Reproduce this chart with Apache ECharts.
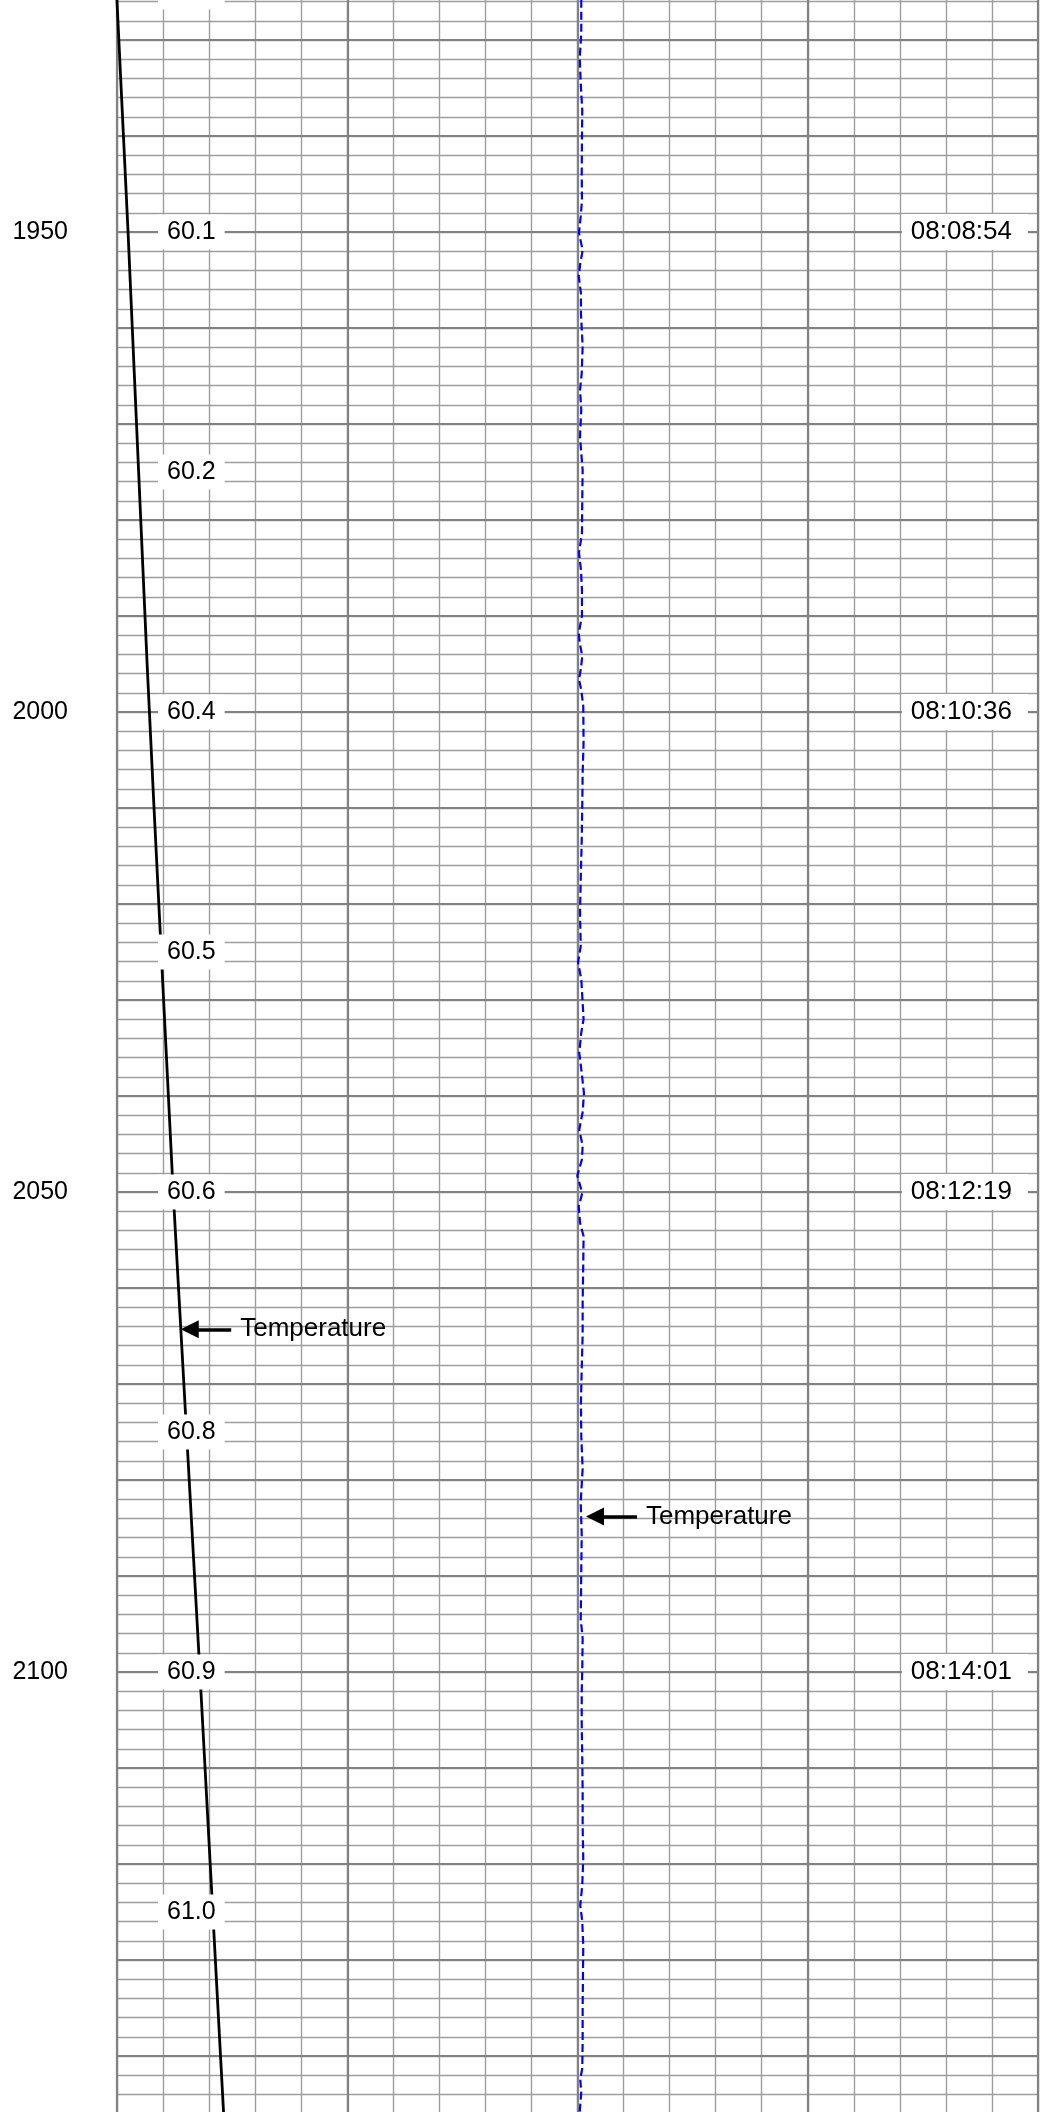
<!DOCTYPE html>
<html>
<head>
<meta charset="utf-8">
<script src="https://cdn.jsdelivr.net/npm/echarts@6/dist/echarts.min.js"></script>
<style>
html, body { margin: 0; padding: 0; background: #ffffff; }
#chart { width: 1045px; height: 2112px; }
</style>
</head>
<body>
<div id="chart"></div>
<script>
// ---------------- data ----------------
// Black curve: temperature (track scale 60 - 70)
const tempDepths = [1920, 1925, 1930, 1935, 1940, 1945, 1950, 1955, 1960, 1965, 1970, 1975, 1980, 1985, 1990, 1995,
  2000, 2005, 2010, 2015, 2020, 2025, 2030, 2035, 2040, 2045, 2050, 2055, 2060, 2065, 2070, 2075, 2080, 2085, 2090,
  2095, 2100, 2105, 2110, 2115, 2120, 2125, 2130, 2135, 2140, 2145, 2150];
const tempValues = [59.970, 59.995, 60.020, 60.045, 60.070, 60.095, 60.120, 60.143, 60.166, 60.189, 60.212, 60.235,
  60.258, 60.281, 60.304, 60.327, 60.352, 60.377, 60.402, 60.428, 60.454, 60.480, 60.506, 60.532, 60.558, 60.584,
  60.610, 60.639, 60.668, 60.697, 60.726, 60.755, 60.784, 60.813, 60.842, 60.871, 60.900, 60.928, 60.956, 60.984,
  61.012, 61.040, 61.068, 61.096, 61.124, 61.152, 61.180];

// Blue dashed curve: temperature (track scale 0 - 120)
const blueDepths = [1925.8, 1929.3, 1931.9, 1934.5, 1937.3, 1940.4, 1943.9, 1946.7, 1948.4, 1950.1, 1951.9, 1953.3,
  1954.6, 1956.4, 1958.5, 1961.9, 1964.7, 1966.5, 1968.5, 1971.3, 1972.3, 1974.8, 1977.9, 1981.4, 1983.4, 1985.2,
  1987.3, 1990.0, 1991.8, 1992.8, 1994.2, 1995.6, 1996.6, 1997.7, 1999.4, 2003.2, 2006.4, 2009.8, 2013.3, 2017.4,
  2020.9, 2024.4, 2026.1, 2027.8, 2029.6, 2032.0, 2033.4, 2035.5, 2037.6, 2039.7, 2041.7, 2043.5, 2045.2, 2046.6,
  2048.3, 2050.1, 2051.5, 2053.2, 2054.6, 2057.4, 2061.5, 2064.9, 2068.4, 2071.9, 2075.4, 2078.8, 2082.3, 2085.8,
  2089.3, 2092.7, 2094.5, 2096.5, 2099.7, 2102.1, 2105.5, 2109.0, 2112.5, 2116.0, 2119.4, 2122.2, 2124.3, 2126.0,
  2128.5, 2131.6, 2135.1, 2138.5, 2141.3, 2142.4, 2143.8, 2145.8];
const blueValues = [60.49, 60.49, 60.29, 60.42, 60.62, 60.58, 60.55, 60.58, 60.42, 60.19, 60.67, 60.36,
  60.16, 60.45, 60.45, 60.67, 60.55, 60.33, 60.49, 60.33, 60.42, 60.67, 60.62, 60.58, 60.19, 60.45,
  60.58, 60.58, 60.16, 60.29, 60.62, 60.42, 60.19, 60.49, 60.75, 60.79, 60.67, 60.62, 60.55, 60.42,
  60.33, 60.42, 60.07, 60.49, 60.62, 60.79, 60.49, 60.23, 60.55, 60.84, 60.67, 60.23, 60.67, 60.58,
  59.97, 60.62, 60.16, 60.33, 60.79, 60.75, 60.67, 60.67, 60.55, 60.45, 60.49, 60.67, 60.42, 60.55,
  60.49, 60.45, 60.42, 60.67, 60.62, 60.55, 60.55, 60.62, 60.67, 60.67, 60.75, 60.62, 60.36, 60.62,
  60.75, 60.71, 60.67, 60.67, 60.62, 60.36, 60.49, 60.29];

// Depth tick labels (left) and time labels (right)
const depthLabelDepths = [1950, 2000, 2050, 2100];
const timeLabels = ['08:08:54', '08:10:36', '08:12:19', '08:14:01'];

// Curve value labels every 25 depth units
const valueLabelDepths = [1925, 1950, 1975, 2000, 2025, 2050, 2075, 2100, 2125];
const valueLabels = ['60.0', '60.1', '60.2', '60.4', '60.5', '60.6', '60.8', '60.9', '61.0'];

// Curve name annotations (arrow from head to tail, at a depth)
const annotText = 'Temperature';
const annotDepths = [2064.3, 2083.8];
const annotHead = [60.79, 62.28];
const annotTail = [61.24, 67.75];

// ---------------- chart ----------------
const FONT = '"Liberation Sans", Arial, Helvetica, sans-serif';
const chart = echarts.init(document.getElementById('chart'), null, { renderer: 'canvas' });

const zip = (ds, vs) => ds.map((d, i) => [vs[i], d]);
const depthCommon = { type: 'value', inverse: true, min: 1900, max: 2150, gridIndex: 0,
  axisLine: { show: false, onZero: false }, axisTick: { show: false } };
const noLabel = { show: false };
const MINOR = { color: '#9e9e9e', width: 1.4 };
const MAJOR = { color: '#828282', width: 2.2 };

const arrowMark = (k) => ({
  silent: true, animation: false, symbol: ['triangle', 'none'], symbolSize: 18,
  lineStyle: { color: '#000000', width: 3.5, type: 'solid' },
  label: { show: true, position: 'end', distance: 9, formatter: annotText, color: '#000', fontSize: 26, fontFamily: FONT },
  emphasis: { disabled: true },
  data: [[{ coord: [annotHead[k], annotDepths[k]] }, { coord: [annotTail[k], annotDepths[k]] }]]
});

const option = {
  backgroundColor: '#ffffff',
  animation: false,
  grid: { left: 117, right: 7, top: -248, bottom: -40, containLabel: false, outerBoundsMode: 'none' },
  xAxis: [
    { type: 'value', min: 60, max: 70, interval: 0.5, position: 'bottom', z: 0,
      axisLine: { show: false, onZero: false }, axisTick: { show: false }, axisLabel: noLabel,
      splitLine: { show: true, lineStyle: MINOR } },
    { type: 'value', min: 60, max: 70, interval: 2.5, position: 'top', z: 1,
      axisLine: { show: false, onZero: false }, axisTick: { show: false }, axisLabel: noLabel,
      splitLine: { show: true, lineStyle: MAJOR } },
    { type: 'value', min: 0, max: 120, show: false, position: 'top' }
  ],
  yAxis: [
    Object.assign({}, depthCommon, { interval: 2, position: 'left', z: 0, axisLabel: noLabel,
      splitLine: { show: true, lineStyle: MINOR } }),
    Object.assign({}, depthCommon, { interval: 10, position: 'left', z: 1,
      splitLine: { show: true, lineStyle: MAJOR },
      axisLabel: { show: true, margin: 49, color: '#000', fontSize: 25, fontFamily: FONT,
        formatter: v => depthLabelDepths.indexOf(Math.round(v)) >= 0 ? String(Math.round(v)) : '' } }),
    Object.assign({}, depthCommon, { interval: 25, position: 'left', z: 10, splitLine: { show: false },
      axisLabel: { show: true, inside: true, margin: 41, color: '#000', fontSize: 25, fontFamily: FONT,
        backgroundColor: '#ffffff', padding: [5, 9, 5, 9],
        formatter: v => { const i = valueLabelDepths.indexOf(Math.round(v)); return i >= 0 ? valueLabels[i] : ''; } } }),
    Object.assign({}, depthCommon, { interval: 50, position: 'right', z: 10, splitLine: { show: false },
      axisLabel: { show: true, inside: true, margin: 10, color: '#000', fontSize: 26, fontFamily: FONT,
        backgroundColor: '#ffffff', padding: [5, 16, 5, 9],
        formatter: v => { const i = depthLabelDepths.indexOf(Math.round(v)); return i >= 0 ? timeLabels[i] : ''; } } })
  ],
  series: [
    {
      name: 'Temperature', type: 'line', xAxisIndex: 0, yAxisIndex: 0, z: 3,
      data: zip(tempDepths, tempValues), symbol: 'none', showSymbol: false, clip: true,
      lineStyle: { color: '#000000', width: 2.8 },
      emphasis: { disabled: true },
      markLine: arrowMark(0)
    },
    {
      name: 'Temperature 2', type: 'line', xAxisIndex: 2, yAxisIndex: 0, z: 3,
      data: zip(blueDepths, blueValues), symbol: 'none', showSymbol: false, clip: true,
      lineStyle: { color: '#0000ff', width: 2.2, type: [8, 4] },
      emphasis: { disabled: true },
      markLine: arrowMark(1)
    }
  ]
};
chart.setOption(option);
</script>
</body>
</html>
